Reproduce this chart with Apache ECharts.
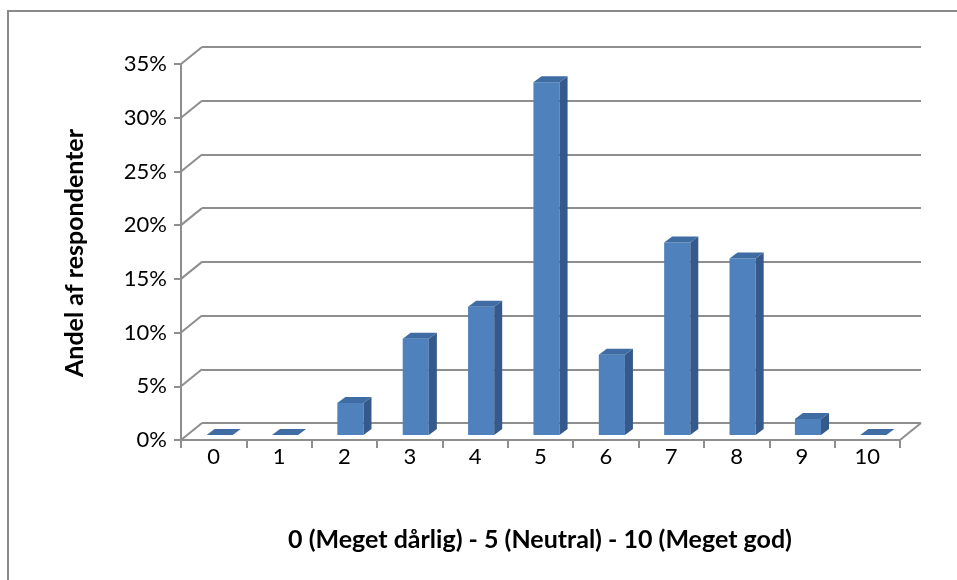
<!DOCTYPE html>
<html>
<head>
<meta charset="utf-8">
<script src="https://cdn.jsdelivr.net/npm/echarts@6/dist/echarts.min.js"></script>
<style>
html,body{margin:0;padding:0;background:#fff;}
#chart{width:957px;height:580px;}
</style>
</head>
<body>
<div id="chart"></div>
<script>
// ---- data ----
const categories = ['0','1','2','3','4','5','6','7','8','9','10'];
const shares = [0, 0, 2.99, 8.96, 11.94, 32.84, 7.46, 17.91, 16.42, 1.49, 0]; // % of respondents
const yTicks = [0, 5, 10, 15, 20, 25, 30, 35];
const yAxisTitle = 'Andel af respondenter';
const xAxisTitle = '0 (Meget dårlig) - 5 (Neutral) - 10 (Meget god)';

// ---- layout / style ----
const DX = 21, DY = 17;          // perspective depth of floor
const BAR_OFF_X = 6, BAR_OFF_Y = 5; // bar position inside depth
const BAR_DX = 8, BAR_DY = 6;     // bar depth
const GRID_COLOR = '#8e8e8e';
const FONT = 'Lato, "Open Sans", sans-serif';

const chart = echarts.init(document.getElementById('chart'));

function poly(points, fill) {
  return { type: 'polygon', shape: { points: points }, style: { fill: fill, stroke: null } };
}

const option = {
  animation: false,
  backgroundColor: '#fff',
  grid: [
    { left: 181, right: 57, top: 64, bottom: 140 },
    { left: 181 + DX, right: 57 - DX, top: 64 - DY, bottom: 140 + DY }
  ],
  xAxis: [
    {
      type: 'category', data: categories, gridIndex: 0, boundaryGap: true,
      axisLine: { lineStyle: { color: GRID_COLOR, width: 2 } },
      axisTick: { show: true, alignWithLabel: false, length: 8, lineStyle: { color: GRID_COLOR, width: 2 } },
      axisLabel: { color: '#000', fontSize: 22, fontFamily: FONT, margin: 6 }
    },
    { type: 'category', data: categories, gridIndex: 1, show: false }
  ],
  yAxis: [
    {
      type: 'value', gridIndex: 0, min: 0, max: 35, interval: 5,
      axisLine: { show: true, lineStyle: { color: GRID_COLOR, width: 2 } },
      axisTick: { show: true, length: 7, lineStyle: { color: GRID_COLOR, width: 2 } },
      axisLabel: { color: '#000', fontSize: 22, fontFamily: FONT, margin: 14, formatter: '{value}%' },
      splitLine: { show: false }
    },
    {
      type: 'value', gridIndex: 1, min: 0, max: 35, interval: 5,
      axisLine: { show: false }, axisTick: { show: false }, axisLabel: { show: false },
      splitLine: { show: true, lineStyle: { color: GRID_COLOR, width: 2 } }
    }
  ],
  graphic: [
    { type: 'rect', shape: { x: 8, y: 11, width: 1000, height: 1000 },
      style: { fill: null, stroke: '#8a8a8a', lineWidth: 2 }, z: 0 },
    { type: 'text', x: 75, y: 253, rotation: Math.PI / 2,
      style: { text: yAxisTitle, fontSize: 25, fontWeight: 'bold', fontFamily: FONT, fill: '#000',
               align: 'center', verticalAlign: 'middle' } },
    { type: 'text', x: 540, y: 540,
      style: { text: xAxisTitle, fontSize: 25, fontWeight: 'bold', fontFamily: FONT, fill: '#000',
               align: 'center', verticalAlign: 'middle' } }
  ],
  series: [
    {
      // side-wall diagonals of gridlines + right floor edge
      type: 'custom', xAxisIndex: 0, yAxisIndex: 0, z: 1, silent: true,
      data: yTicks.map(function (t) { return [0, t]; }),
      renderItem: function (params, api) {
        const cs = params.coordSys;
        const y = api.coord([0, api.value(1)])[1];
        const children = [{
          type: 'line', shape: { x1: cs.x, y1: y, x2: cs.x + DX, y2: y - DY },
          style: { stroke: GRID_COLOR, lineWidth: 2 }
        }];
        if (params.dataIndex === 0) {
          children.push({
            type: 'line', shape: { x1: cs.x + cs.width, y1: y, x2: cs.x + cs.width + DX, y2: y - DY },
            style: { stroke: GRID_COLOR, lineWidth: 2 }
          });
        }
        return { type: 'group', children: children };
      }
    },
    {
      type: 'custom', xAxisIndex: 0, yAxisIndex: 0, z: 5, silent: true,
      data: shares.map(function (v, i) { return [i, v]; }),
      renderItem: function (params, api) {
        const i = api.value(0), v = api.value(1);
        const base = api.coord([i, 0]);
        const top = api.coord([i, v]);
        const w = api.size([1, 0])[0] * 0.4;
        const cx = base[0] + BAR_OFF_X;
        const yb = base[1] - BAR_OFF_Y;
        const h = base[1] - top[1];
        const yt = yb - h;
        const xl = cx - w / 2, xr = cx + w / 2;
        const children = [];
        if (h > 0.5) {
          children.push(poly([[xl, yt], [xr, yt], [xr, yb], [xl, yb]], '#4F81BD'));
          children.push(poly([[xr, yt], [xr + BAR_DX, yt - BAR_DY], [xr + BAR_DX, yb - BAR_DY], [xr, yb]], '#35598A'));
        }
        children.push(poly([[xl, yt], [xr, yt], [xr + BAR_DX, yt - BAR_DY], [xl + BAR_DX, yt - BAR_DY]], '#3F6CA3'));
        return { type: 'group', children: children };
      }
    }
  ]
};
chart.setOption(option);
</script>
</body>
</html>
